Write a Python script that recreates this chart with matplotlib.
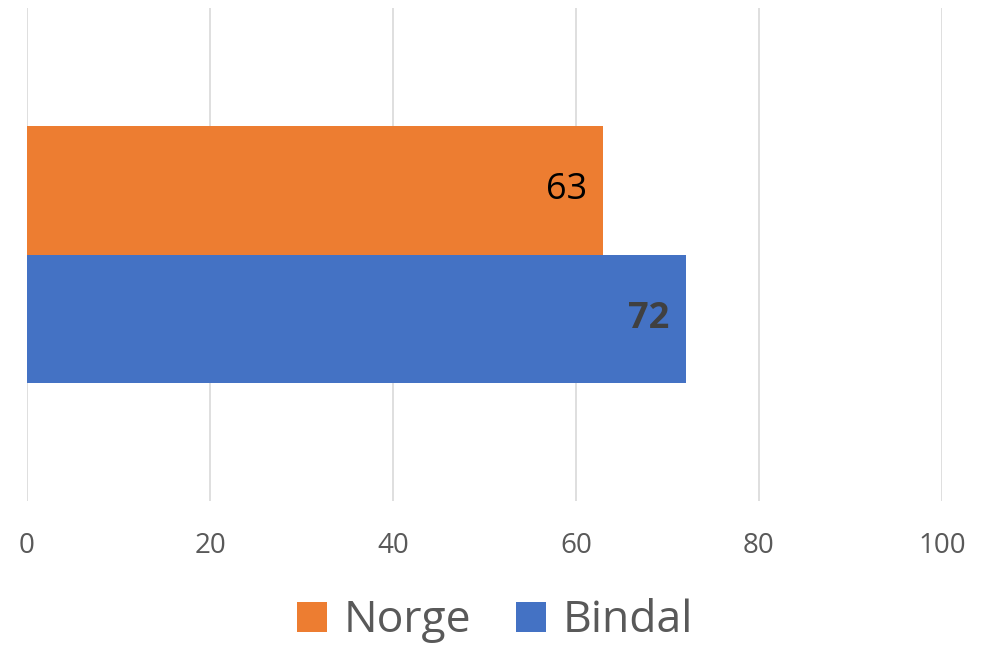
import matplotlib
matplotlib.use("Agg")
import matplotlib.pyplot as plt
from matplotlib.patches import Patch

series = ["Norge", "Bindal"]
values = [63, 72]
colors = ["#ED7D31", "#4472C4"]
label_colors = ["#000000", "#404040"]
label_weights = ["normal", "bold"]
xticks = [0, 20, 40, 60, 80, 100]

plt.rcParams['font.family'] = ['Open Sans', 'DejaVu Sans']

fig = plt.figure(figsize=(9.86, 6.45), dpi=100)
ax = fig.add_axes([27/986, 1-501/645, (942-27)/986, (501-8)/645])

h = 0.2606
offsets = [h/2, -h/2]
for name, v, c, off, lc, lw in zip(series, values, colors, offsets, label_colors, label_weights):
    ax.barh(off, v, height=h, color=c, zorder=3)
    ax.annotate(str(v), xy=(v, off), xytext=(-12, 0), textcoords="offset points",
                ha="right", va="center", fontsize=26, color=lc, weight=lw, zorder=4)

ax.set_xlim(0, 100)
ax.set_ylim(-0.5, 0.5)
ax.set_xticks(xticks)
ax.set_yticks([])
ax.grid(axis="x", color="#D9D9D9", linewidth=1.2, zorder=0)
for s in ax.spines.values():
    s.set_visible(False)
ax.tick_params(axis="x", length=0, labelsize=20, labelcolor="#595959", pad=22)

handles = [Patch(facecolor=c, edgecolor="none") for c in colors]
leg = fig.legend(handles, series, loc="center", bbox_to_anchor=(495/986, 1-621/645),
                 ncol=2, frameon=False, fontsize=32, labelcolor="#595959",
                 handlelength=0.67, handleheight=0.67, handletextpad=0.38,
                 columnspacing=1.0)

fig.savefig("out.png", dpi=100)
